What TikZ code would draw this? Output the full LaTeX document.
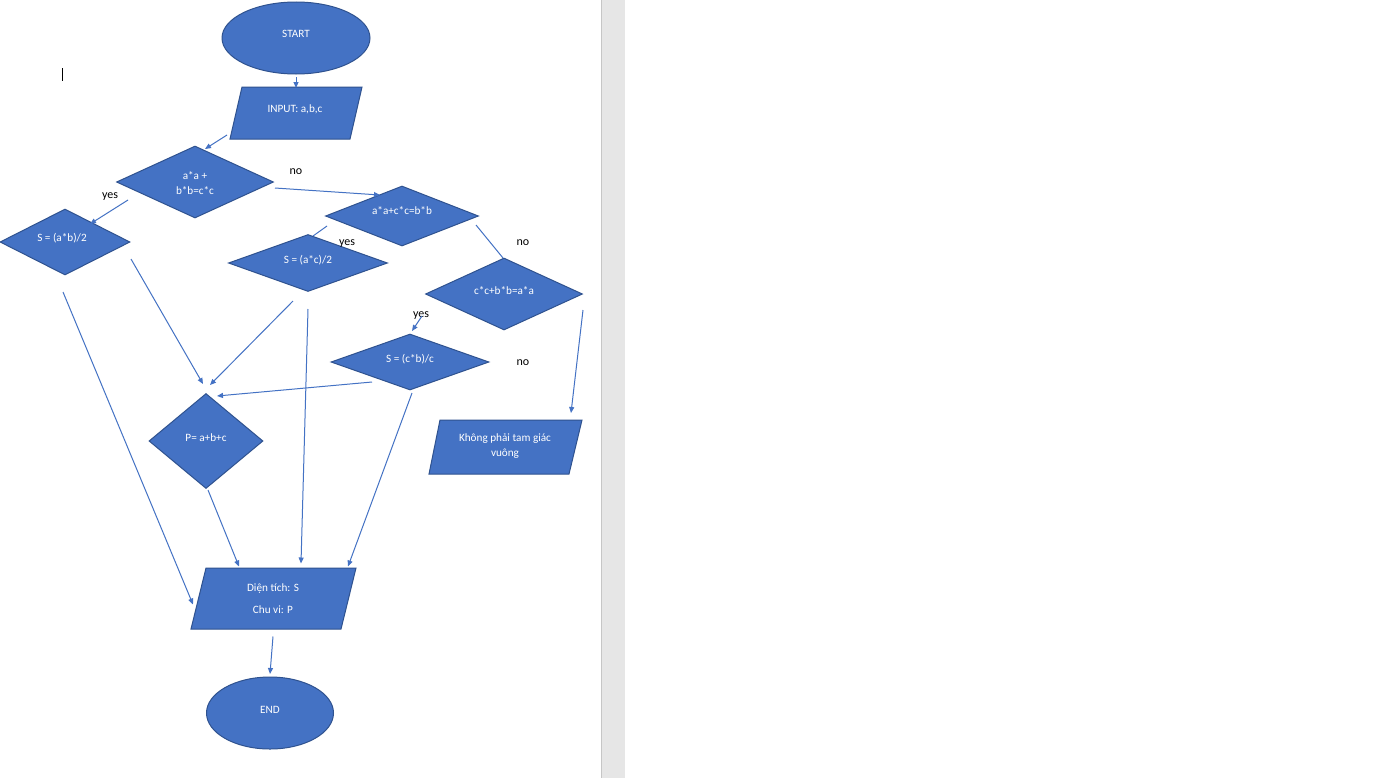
\documentclass[tikz,border=0pt]{standalone}
\usepackage{fontspec}
\setmainfont{Carlito}
\usetikzlibrary{shapes.geometric,calc,arrows.meta}
\definecolor{fillblue}{HTML}{4472C4}
\definecolor{edgeblue}{HTML}{2F528F}
\definecolor{gutter}{HTML}{E6E6E6}
\definecolor{gutterline}{HTML}{C6C6C6}
\begin{document}
\begin{tikzpicture}[x=0.75pt,y=-0.75pt,
  shapebox/.style={fill=fillblue, draw=edgeblue, line width=0.75pt},
  term/.style={shapebox, ellipse, inner sep=0pt},
  dia/.style={shapebox, diamond, inner sep=0pt},
  holder/.style={inner sep=0pt},
  txt/.style={text=white, font=\fontsize{8.4}{10}\selectfont, inner sep=0pt, text height=6.6pt, text depth=0pt},
  lbl/.style={text=black, font=\fontsize{9}{11}\selectfont, inner sep=0pt, text height=7pt, text depth=0pt},
  conn/.style={draw=fillblue, line width=0.75pt},
  arr/.style={conn, -{Triangle[length=4.5pt,width=3.75pt]}},
]
\useasboundingbox (0,0) rectangle (1394,778);
\fill[white] (0,0) rectangle (1394,778);
\fill[gutter] (601,0) rectangle (625,778);
\draw[gutterline, line width=0.75pt] (601.5,0) -- (601.5,778);
\draw[black, line width=0.6pt] (62,68) -- (62,81);

% terminals
\node[term, minimum width=111pt, minimum height=54pt] (start) at (296,38) {};
\node[term, minimum width=95.25pt, minimum height=54pt] (stop) at (270,713) {};

% parallelograms
\node[holder, minimum width=99pt, minimum height=39pt] (inp) at (296,113) {};
\path[shapebox] ($(inp)+(-54,-26)$) -- ($(inp)+(66,-26)$) -- ($(inp)+(54,26)$) -- ($(inp)+(-66,26)$) -- cycle;
\node[holder, minimum width=115pt, minimum height=40.5pt] (kp) at (505,447) {};
\path[shapebox] ($(kp)+(-65,-27)$) -- ($(kp)+(77,-27)$) -- ($(kp)+(64,27)$) -- ($(kp)+(-76,27)$) -- cycle;
\node[holder, minimum width=124pt, minimum height=45.75pt] (out) at (274,598.5) {};
\path[shapebox] ($(out)+(-68,-30.5)$) -- ($(out)+(82,-30.5)$) -- ($(out)+(67,30.5)$) -- ($(out)+(-83,30.5)$) -- cycle;

% diamonds
\node[dia, minimum width=117.75pt, minimum height=54pt] (d1) at (195,182) {};
\node[dia, minimum width=97.5pt, minimum height=49.5pt] (sab) at (65,242) {};
\node[dia, minimum width=114.75pt, minimum height=45pt] (d2) at (402,216) {};
\node[dia, minimum width=119.25pt, minimum height=42.75pt] (sac) at (308,263) {};
\node[dia, minimum width=117.75pt, minimum height=54pt] (d3) at (504,294) {};
\node[dia, minimum width=118.5pt, minimum height=42pt] (scb) at (410,362) {};
\node[dia, minimum width=85.5pt, minimum height=71.25pt] (p) at (206,441) {};

% texts
\node[txt] (startt) at (296,33) {START};
\node[txt] (inpt) at (295,108) {INPUT: a,b,c};
\node[txt] (d1ta) at (195,175) {a*a +};
\node[txt] (d1tb) at (195,190) {b*b=c*c};
\node[txt] (sabt) at (62,237) {S = (a*b)/2};
\node[txt] (d2t) at (402,210) {a*a+c*c=b*b};
\node[txt] (sact) at (308,259) {S = (a*c)/2};
\node[txt] (d3t) at (504,290) {c*c+b*b=a*a};
\node[txt] (scbt) at (410,358) {S = (c*b)/c};
\node[txt] (pt) at (206,437) {P= a+b+c};
\node[txt] (kpta) at (505,437) {Không phải tam giác};
\node[txt] (kptb) at (505,452) {vuông};
\node[txt] (outta) at (273,587) {Diện tích: S};
\node[txt] (outtb) at (273,609) {Chu vi: P};
\node[txt] (stopt) at (270,709) {END};

% branch labels
\node[lbl] (l1) at (110,194) {yes};
\node[lbl] (l2) at (296,170) {no};
\node[lbl] (l3) at (347,241) {yes};
\node[lbl] (l4) at (523,241) {no};
\node[lbl] (l5) at (421,313) {yes};
\node[lbl] (l6) at (523,361) {no};

% connectors
\draw[arr] ($(start)+(0,39)$) -- ($(inp)+(0,-25)$);
\draw[arr] ($(inp)+(-69,22)$) -- ($(d1)+(10,-33)$);
\draw[arr] ($(d1)+(-67,18)$) -- ($(sab)+(25,-18)$);
\draw[arr] ($(d1)+(80,6)$) -- ($(d2)+(-22,-21)$);
\draw[conn] ($(d2)+(-75,10)$) -- ($(sac)+(5,-27)$);
\draw[conn] ($(d2)+(74,9)$) -- ($(d3)+(-1,-36)$);
\draw[arr] ($(d3)+(-82,22)$) -- ($(scb)+(2,-31)$);
\draw[arr] ($(d3)+(79,16)$) -- ($(kp)+(66,-34)$);
\draw[arr] ($(sab)+(66,17)$) -- ($(p)+(-3,-57)$);
\draw[arr] ($(sac)+(-15,38)$) -- ($(p)+(4,-56)$);
\draw[arr] ($(scb)+(-38,20)$) -- ($(p)+(11,-45)$);
\draw[arr] ($(sab)+(-2,50)$) -- ($(out)+(-81,6)$);
\draw[arr] ($(sac)+(0,46)$) -- ($(out)+(27,-35)$);
\draw[arr] ($(scb)+(2,31)$) -- ($(out)+(74,-32)$);
\draw[arr] ($(p)+(2,49)$) -- ($(out)+(-35,-32)$);
\draw[arr] ($(out)+(-1,38)$) -- ($(stop)+(0,-39)$);
\end{tikzpicture}
\end{document}
